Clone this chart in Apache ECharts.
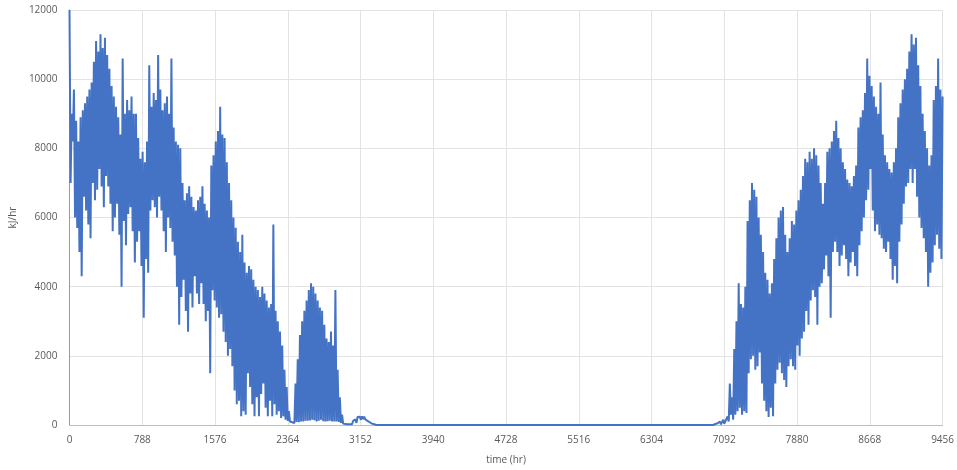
<!DOCTYPE html>
<html>
<head>
<meta charset="utf-8">
<script src="https://cdn.jsdelivr.net/npm/echarts@6/dist/echarts.min.js"></script>
<style>
  html, body { margin: 0; padding: 0; background: #ffffff; }
  #chart { width: 957px; height: 470px; }
</style>
</head>
<body>
<div id="chart"></div>
<script>
// Load trace sampled every 12 h, alternating between the day's highs and lows
const STEP_HR = 12;

const loadKJ = [
  12000, 7000, 9000, 8200, 9700, 6000, 8800, 5700, 8200, 5000, 8900, 4300, 9100, 6600, 9300, 6200, 9500, 5800, 9700, 5400,
  9900, 7000, 10500, 6500, 11100, 6800, 10800, 7400, 11300, 6900, 10900, 6300, 11200, 7200, 10700, 6900, 10300, 6400, 9800, 5600,
  9500, 6000, 9200, 6400, 8900, 5500, 8400, 4000, 10600, 5900, 9000, 5200, 9400, 6100, 9100, 6300, 9500, 5600, 9000, 4700,
  9000, 5300, 8300, 5600, 7700, 4600, 7900, 3100, 7600, 4800, 8200, 4400, 10400, 6200, 9200, 6500, 9600, 6300, 9400, 6000,
  10700, 6600, 9700, 6200, 9100, 5600, 9300, 5000, 9500, 6000, 9000, 5700, 10600, 5300, 8600, 4900, 8200, 4000, 8100, 2900,
  8000, 3700, 7000, 4200, 6500, 3300, 6700, 2700, 6900, 3800, 6600, 3400, 6300, 4300, 6200, 3800, 6500, 3500, 6600, 4100,
  6900, 3500, 6400, 3000, 6200, 3300, 6000, 1500, 7500, 3900, 7800, 3600, 8200, 3400, 8500, 3100, 9200, 3200, 8400, 2700,
  8300, 2400, 7600, 2000, 7000, 2200, 6500, 1700, 6000, 1000, 5700, 600, 5300, 700, 5000, 250, 5500, 400, 4700, 300,
  4400, 1500, 4600, 1100, 4500, 600, 4200, 250, 4000, 800, 3900, 250, 3700, 900, 4000, 1200, 3800, 500, 3600, 250,
  3400, 700, 3500, 250, 5800, 600, 3300, 300, 3000, 400, 2700, 200, 2300, 250, 1600, 150, 1100, 120, 400, 100,
  150, 80, 100, 60, 1200, 90, 1900, 80, 2600, 100, 3000, 100, 3300, 120, 3600, 120, 3900, 130, 4100, 150,
  4000, 140, 3800, 100, 3600, 120, 3400, 150, 3300, 110, 2900, 100, 2500, 110, 2400, 120, 2700, 100, 2300, 100,
  3900, 100, 1600, 90, 800, 60, 300, 40, 60, 30, 40, 20, 30, 20, 60, 20, 120, 80, 160, 60,
  230, 180, 240, 150, 250, 170, 240, 160, 200, 120, 140, 80, 80, 40, 30, 20, 0, 0, 0, 0,
  0, 0, 0, 0, 0, 0, 0, 0, 0, 0, 0, 0, 0, 0, 0, 0, 0, 0, 0, 0,
  0, 0, 0, 0, 0, 0, 0, 0, 0, 0, 0, 0, 0, 0, 0, 0, 0, 0, 0, 0,
  0, 0, 0, 0, 0, 0, 0, 0, 0, 0, 0, 0, 0, 0, 0, 0, 0, 0, 0, 0,
  0, 0, 0, 0, 0, 0, 0, 0, 0, 0, 0, 0, 0, 0, 0, 0, 0, 0, 0, 0,
  0, 0, 0, 0, 0, 0, 0, 0, 0, 0, 0, 0, 0, 0, 0, 0, 0, 0, 0, 0,
  0, 0, 0, 0, 0, 0, 0, 0, 0, 0, 0, 0, 0, 0, 0, 0, 0, 0, 0, 0,
  0, 0, 0, 0, 0, 0, 0, 0, 0, 0, 0, 0, 0, 0, 0, 0, 0, 0, 0, 0,
  0, 0, 0, 0, 0, 0, 0, 0, 0, 0, 0, 0, 0, 0, 0, 0, 0, 0, 0, 0,
  0, 0, 0, 0, 0, 0, 0, 0, 0, 0, 0, 0, 0, 0, 0, 0, 0, 0, 0, 0,
  0, 0, 0, 0, 0, 0, 0, 0, 0, 0, 0, 0, 0, 0, 0, 0, 0, 0, 0, 0,
  0, 0, 0, 0, 0, 0, 0, 0, 0, 0, 0, 0, 0, 0, 0, 0, 0, 0, 0, 0,
  0, 0, 0, 0, 0, 0, 0, 0, 0, 0, 0, 0, 0, 0, 0, 0, 0, 0, 0, 0,
  0, 0, 0, 0, 0, 0, 0, 0, 0, 0, 0, 0, 0, 0, 0, 0, 0, 0, 0, 0,
  0, 0, 0, 0, 0, 0, 0, 0, 0, 0, 0, 0, 0, 0, 0, 0, 0, 0, 0, 0,
  0, 0, 0, 0, 0, 0, 0, 0, 0, 0, 0, 0, 0, 0, 0, 0, 0, 0, 0, 0,
  0, 0, 0, 30, 0, 50, 60, 100, 20, 90, 150, 40, 60, 180, 250, 100, 1200, 300, 800, 150,
  2200, 300, 3000, 400, 4100, 500, 3500, 300, 3400, 400, 4000, 350, 5900, 1500, 6500, 1900, 7000, 2000, 6800, 1600,
  6600, 1700, 6000, 2100, 5500, 1200, 5000, 700, 4400, 400, 4200, 230, 3800, 500, 4100, 250, 4800, 1200, 5400, 1600,
  6000, 1800, 6200, 1500, 6300, 1300, 5500, 1100, 5000, 1700, 5400, 1900, 5900, 1700, 5800, 1600, 6200, 2300, 6500, 2000,
  6800, 2500, 7200, 2700, 7700, 3300, 7600, 2900, 7900, 3600, 7700, 3900, 8000, 3700, 7800, 2900, 7500, 4000, 7000, 4100,
  6400, 4500, 7000, 4900, 7900, 4300, 8000, 3100, 8200, 5000, 8500, 5300, 8800, 5000, 8300, 4600, 8000, 4900, 7600, 5200,
  7400, 4800, 7100, 4300, 7000, 4700, 6900, 5000, 7200, 4600, 7500, 4300, 8600, 5200, 8900, 5600, 9100, 6000, 9600, 6500,
  10600, 6800, 10100, 7400, 9800, 6200, 9500, 5600, 9200, 5800, 9000, 5500, 9900, 5400, 8400, 5100, 7800, 5000, 7600, 5300,
  7400, 4800, 7300, 4200, 7600, 4600, 8000, 4100, 8900, 5300, 9300, 5800, 9700, 6400, 10000, 6900, 10300, 7000, 10800, 7400,
  11300, 7000, 11000, 7400, 11200, 6600, 10400, 6000, 9800, 5700, 9000, 5400, 8500, 5000, 8000, 4000, 7500, 4400, 7800, 4700,
  9400, 5200, 9800, 5500, 10600, 5100, 9700, 4800, 9500
];

// Axis settings
const X_MAX = 9456;
const X_TICK = 788;
const Y_MAX = 12000;
const Y_TICK = 2000;
const xName = 'time (hr)';
const yName = 'kJ/hr';

const seriesData = loadKJ.map((v, i) => [i * STEP_HR, v]);

const chart = echarts.init(document.getElementById('chart'), null, { renderer: 'canvas' });
const labelFont = { fontFamily: 'Open Sans, Liberation Sans, sans-serif', fontSize: 10, color: '#595959' };
const plain = (v) => String(v);

chart.setOption({
  animation: false,
  backgroundColor: '#ffffff',
  grid: { left: 69, right: 10, top: 10, bottom: 45, containLabel: false },
  xAxis: {
    type: 'value',
    min: 0,
    max: X_MAX,
    interval: X_TICK,
    name: xName,
    nameLocation: 'middle',
    nameGap: 30,
    nameTextStyle: labelFont,
    axisLine: { show: true, lineStyle: { color: '#bfbfbf', width: 1 } },
    axisTick: { show: false },
    axisLabel: Object.assign({ margin: 10, formatter: plain }, labelFont),
    splitLine: { show: true, lineStyle: { color: '#e3e3e3', width: 1 } }
  },
  yAxis: {
    type: 'value',
    min: 0,
    max: Y_MAX,
    interval: Y_TICK,
    name: yName,
    nameLocation: 'middle',
    nameGap: 47,
    nameRotate: 90,
    nameTextStyle: labelFont,
    axisLine: { show: true, lineStyle: { color: '#8a9bbd', width: 1 } },
    axisTick: { show: false },
    axisLabel: Object.assign({ margin: 12, formatter: plain }, labelFont),
    splitLine: { show: true, lineStyle: { color: '#e3e3e3', width: 1 } }
  },
  series: [{
    type: 'line',
    data: seriesData,
    symbol: 'none',
    showSymbol: false,
    lineStyle: { color: '#4472c4', width: 2 },
    itemStyle: { color: '#4472c4' },
    z: 3
  }]
});
</script>
</body>
</html>
